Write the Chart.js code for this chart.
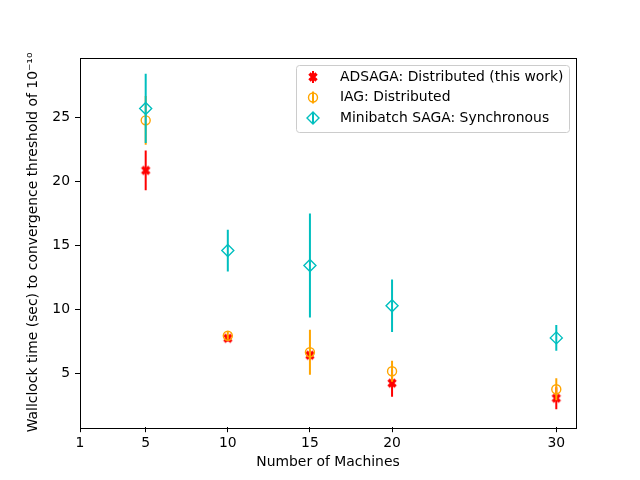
<!DOCTYPE html>
<html>
<head>
<meta charset="utf-8">
<script src="https://cdn.jsdelivr.net/npm/chart.js@4.4.1/dist/chart.umd.min.js"></script>
<style>body{margin:0;background:#fff}</style>
</head>
<body>
<canvas id="myChart" width="640" height="480"></canvas>
<script>
const machines = [5, 10, 15, 20, 30];
const adsagaMean = [20.85, 7.77, 6.45, 4.27, 3.1];
const adsagaErr = [1.55, 0.25, 0.35, 1.05, 0.86];
const iagMean = [24.75, 7.97, 6.68, 5.2, 3.8];
const iagErr = [1.9, 0.3, 1.75, 0.82, 0.86];
const sagaMean = [25.68, 14.6, 13.44, 10.3, 7.8];
const sagaErr = [2.7, 1.63, 4.05, 2.05, 1.0];
const xTicks = [1, 5, 10, 15, 20, 30];
const yTicks = [5, 10, 15, 20, 25];

const seriesNames = ['ADSAGA: Distributed (this work)', 'IAG: Distributed', 'Minibatch SAGA: Synchronous'];
const RED = '#ff0000', ORANGE = '#ffa500', CYAN = '#00bfbf';
const FONT = 'DejaVu Sans';

// filled X marker like matplotlib 'X'
function drawX(c, x, y) {
  c.save();
  c.strokeStyle = RED;
  c.lineWidth = 3.4;
  c.beginPath();
  c.moveTo(x - 3.5, y - 3.5); c.lineTo(x + 3.5, y + 3.5);
  c.moveTo(x + 3.5, y - 3.5); c.lineTo(x - 3.5, y + 3.5);
  c.stroke();
  c.restore();
}
const xMarker = document.createElement('canvas');
xMarker.width = 12; xMarker.height = 12;
drawX(xMarker.getContext('2d'), 6, 6);

function drawCircle(c, x, y) {
  c.save();
  c.strokeStyle = ORANGE; c.lineWidth = 1.4;
  c.beginPath(); c.arc(x, y, 4.5, 0, Math.PI * 2); c.stroke();
  c.restore();
}
function drawDiamond(c, x, y) {
  c.save();
  c.strokeStyle = CYAN; c.lineWidth = 1.4;
  c.beginPath();
  c.moveTo(x, y - 6); c.lineTo(x + 6, y); c.lineTo(x, y + 6); c.lineTo(x - 6, y); c.closePath();
  c.stroke();
  c.restore();
}

const errorBars = {
  id: 'errorBars',
  beforeDatasetDraw(chart, args) {
    const ds = chart.data.datasets[args.index];
    const c = chart.ctx, xs = chart.scales.x, ys = chart.scales.y, a = chart.chartArea;
    c.save();
    c.beginPath(); c.rect(a.left, a.top, a.right - a.left, a.bottom - a.top); c.clip();
    c.strokeStyle = ds.borderColor; c.lineWidth = 2;
    ds.data.forEach((p, k) => {
      const px = xs.getPixelForValue(p.x);
      c.beginPath();
      c.moveTo(px, ys.getPixelForValue(p.y - ds.errors[k]));
      c.lineTo(px, ys.getPixelForValue(p.y + ds.errors[k]));
      c.stroke();
    });
    c.restore();
  }
};

const frameAndLegend = {
  id: 'frameAndLegend',
  afterDraw(chart) {
    const c = chart.ctx, a = chart.chartArea;
    c.save();
    c.strokeStyle = '#000'; c.lineWidth = 1;
    c.strokeRect(Math.round(a.left) + 0.5, Math.round(a.top) + 0.5, Math.round(a.right - a.left), Math.round(a.bottom - a.top));
    // legend box
    const bx = 296.5, by = 65.5, bw = 273, bh = 67, r = 3;
    c.beginPath();
    c.moveTo(bx + r, by); c.lineTo(bx + bw - r, by); c.arcTo(bx + bw, by, bx + bw, by + r, r);
    c.lineTo(bx + bw, by + bh - r); c.arcTo(bx + bw, by + bh, bx + bw - r, by + bh, r);
    c.lineTo(bx + r, by + bh); c.arcTo(bx, by + bh, bx, by + bh - r, r);
    c.lineTo(bx, by + r); c.arcTo(bx, by, bx + r, by, r);
    c.closePath();
    c.fillStyle = 'rgba(255,255,255,0.8)'; c.fill();
    c.strokeStyle = '#cccccc'; c.stroke();
    const rows = [77, 97.5, 118];
    const colors = [RED, ORANGE, CYAN];
    const mx = 313;
    rows.forEach((ry, i) => {
      c.strokeStyle = colors[i]; c.lineWidth = 2;
      c.beginPath(); c.moveTo(mx, ry - 6); c.lineTo(mx, ry + 6); c.stroke();
      if (i === 0) drawX(c, mx, ry);
      if (i === 1) drawCircle(c, mx, ry);
      if (i === 2) drawDiamond(c, mx, ry);
      c.fillStyle = '#000'; c.font = '13.9px "' + FONT + '"';
      c.textBaseline = 'middle'; c.textAlign = 'left';
      c.fillText(seriesNames[i], 340, ry);
    });
    c.restore();
  }
};

const toPoints = means => machines.map((m, k) => ({x: m, y: means[k]}));

new Chart(document.getElementById('myChart'), {
  type: 'scatter',
  data: {
    datasets: [
      {label: seriesNames[0], data: toPoints(adsagaMean), errors: adsagaErr, order: 3,
       borderColor: RED, backgroundColor: RED, pointStyle: xMarker, pointRadius: 5},
      {label: seriesNames[1], data: toPoints(iagMean), errors: iagErr, order: 2,
       borderColor: ORANGE, backgroundColor: 'rgba(0,0,0,0)', pointStyle: 'circle', pointRadius: 4.5, pointBorderWidth: 1.4},
      {label: seriesNames[2], data: toPoints(sagaMean), errors: sagaErr, order: 1,
       borderColor: CYAN, backgroundColor: 'rgba(0,0,0,0)', pointStyle: 'rectRot', pointRadius: 6, pointBorderWidth: 1.4}
    ]
  },
  options: {
    responsive: false,
    animation: false,
    devicePixelRatio: 1,
    layout: {padding: {left: 0, right: 64, top: 57.6, bottom: 0}},
    plugins: {legend: {display: false}, tooltip: {enabled: false}},
    scales: {
      x: {
        type: 'linear', min: 1, max: 31.2,
        afterBuildTicks: s => { s.ticks = xTicks.map(v => ({value: v})); },
        afterFit: s => { s.height = 52.8; },
        ticks: {color: '#000', font: {family: FONT, size: 13.9}, padding: 3, maxRotation: 0, autoSkip: false},
        grid: {drawOnChartArea: false, tickLength: 5, color: '#000'},
        border: {display: false},
        title: {display: true, text: 'Number of Machines', color: '#000',
                font: {family: FONT, size: 13.9}, padding: {top: 0, bottom: 9.7}}
      },
      y: {
        min: 0.84, max: 29.64,
        afterBuildTicks: s => { s.ticks = yTicks.map(v => ({value: v})); },
        afterFit: s => { s.width = 80; },
        ticks: {color: '#000', font: {family: FONT, size: 13.9}, padding: 5},
        grid: {drawOnChartArea: false, tickLength: 5, color: '#000'},
        border: {display: false},
        title: {display: true, text: 'Wallclock time (sec) to convergence threshold of 10\u207b\u00b9\u2070', color: '#000',
                font: {family: FONT, size: 13.9}, padding: {top: 24.7, bottom: 0}}
      }
    }
  },
  plugins: [errorBars, frameAndLegend]
});
</script>
</body>
</html>
